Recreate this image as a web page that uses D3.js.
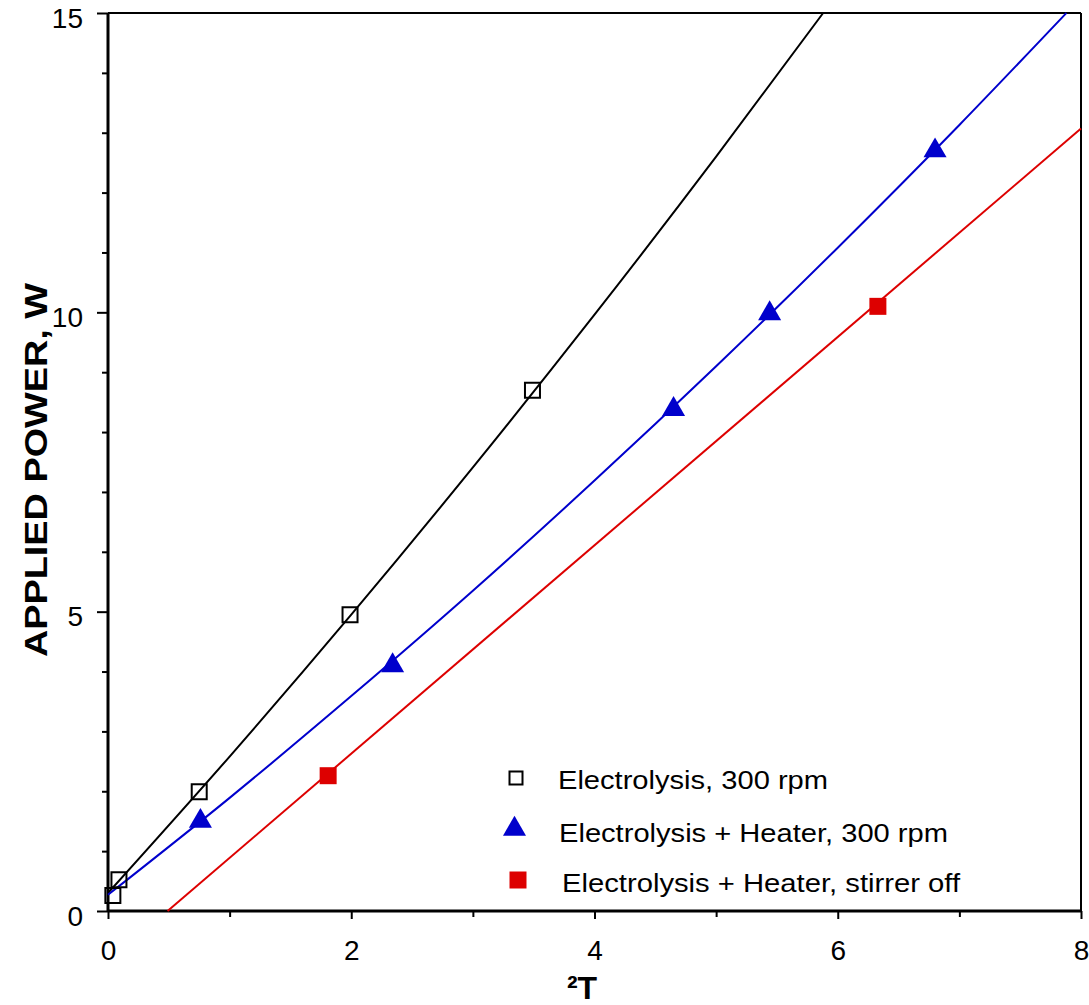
<!DOCTYPE html>
<html>
<head>
<meta charset="utf-8">
<script src="https://cdn.jsdelivr.net/npm/d3@7"></script>
<style>
  body { margin: 0; background: #fff; }
  svg { font-family: "Liberation Sans", Arial, sans-serif; }
</style>
</head>
<body>
<div id="chart"></div>
<script>
// measured points
const elecX = [0.04, 0.09, 0.75, 1.99, 3.49];
const elecY = [0.26, 0.52, 1.99, 4.95, 8.70];
const heatX = [0.76, 2.34, 4.65, 5.44, 6.80];
const heatY = [1.50, 4.10, 8.38, 9.98, 12.70];
const offX = [1.81, 6.33];
const offY = [2.26, 10.10];

// fitted lines
const elecFitX = [0, 1, 2, 3, 4, 5, 5.88];
const elecFitY = [0.30, 2.58, 4.95, 7.41, 9.96, 12.60, 15.0];
const heatFitX = [0, 1, 2, 3, 4, 5, 6, 7, 7.88];
const heatFitY = [0.27, 1.89, 3.59, 5.35, 7.19, 9.10, 11.08, 13.13, 15.0];
const offFitX = [0.49, 8];
const offFitY = [0, 13.07];

const xTicks = [0, 2, 4, 6, 8];
const xMinor = [1, 3, 5, 7];
const yTicks = [0, 5, 10, 15];
const yMinor = [1, 2, 3, 4, 6, 7, 8, 9, 11, 12, 13, 14];

const legendLabels = ["Electrolysis, 300 rpm", "Electrolysis + Heater, 300 rpm", "Electrolysis + Heater, stirrer off"];

const W = 1089, H = 1005;
const mLeft = 108, mRight = 1081, mTop = 13, mBottom = 911;
const BLUE = "#0000cc", RED = "#dd0000";

const svg = d3.select("#chart").append("svg").attr("width", W).attr("height", H);

const x = d3.scaleLinear().domain([0, 8]).range([mLeft, mRight]);
const y = d3.scaleLinear().domain([0, 15]).range([mBottom, mTop]);

// frame top/right
svg.append("line").attr("x1", mLeft).attr("x2", mRight).attr("y1", mTop).attr("y2", mTop)
  .attr("stroke", "#000").attr("stroke-width", 2);
svg.append("line").attr("x1", mRight).attr("x2", mRight).attr("y1", mTop).attr("y2", mBottom)
  .attr("stroke", "#000").attr("stroke-width", 2);

// axes
const xAxis = svg.append("g").attr("transform", `translate(0,${mBottom})`)
  .call(d3.axisBottom(x).tickValues(xTicks).tickFormat(d3.format("d")).tickSize(8).tickPadding(21));
const yAxis = svg.append("g").attr("transform", `translate(${mLeft},0)`)
  .call(d3.axisLeft(y).tickValues(yTicks).tickFormat(d3.format("d")).tickSize(11).tickPadding(14));
[xAxis, yAxis].forEach(g => {
  g.select(".domain").attr("stroke-width", 3);
  g.selectAll(".tick line").attr("stroke-width", 2);
  g.selectAll("text").attr("font-size", 28).attr("font-family", "Liberation Sans, Arial, sans-serif").attr("fill", "#000");
});
xAxis.select(".domain").attr("d", `M${mLeft},0H${mRight}`);
yAxis.select(".domain").attr("d", `M0,${mBottom}V${mTop}`);
yAxis.selectAll("text").attr("dy", "0.5em");

svg.append("g").attr("transform", `translate(0,${mBottom})`)
  .call(d3.axisBottom(x).tickValues(xMinor).tickFormat("").tickSize(6))
  .call(g => g.select(".domain").remove())
  .selectAll("line").attr("stroke-width", 2);
svg.append("g").attr("transform", `translate(${mLeft},0)`)
  .call(d3.axisLeft(y).tickValues(yMinor).tickFormat("").tickSize(6))
  .call(g => g.select(".domain").remove())
  .selectAll("line").attr("stroke-width", 2);

// axis titles
svg.append("text").attr("x", 582).attr("y", 999).attr("text-anchor", "middle")
  .attr("font-size", 32).attr("font-weight", "bold").text("²T");
svg.append("text").attr("transform", `translate(47,470) rotate(-90)`)
  .attr("text-anchor", "middle").attr("font-size", 32).attr("font-weight", "bold")
  .attr("textLength", 374).attr("lengthAdjust", "spacingAndGlyphs")
  .text("APPLIED POWER, W");

// lines
const line = d3.line().x(d => x(d[0])).y(d => y(d[1])).curve(d3.curveMonotoneX);
const plot = svg.append("g");
plot.append("path").datum(d3.zip(elecFitX, elecFitY)).attr("d", line)
  .attr("fill", "none").attr("stroke", "#000").attr("stroke-width", 2);
plot.append("path").datum(d3.zip(heatFitX, heatFitY)).attr("d", line)
  .attr("fill", "none").attr("stroke", BLUE).attr("stroke-width", 2);
plot.append("path").datum(d3.zip(offFitX, offFitY)).attr("d", line)
  .attr("fill", "none").attr("stroke", RED).attr("stroke-width", 2);

// markers
const sq = d3.symbol().type(d3.symbolSquare).size(15 * 15);
const tri = d3.symbol().type(d3.symbolTriangle).size(230);
const sqFill = d3.symbol().type(d3.symbolSquare).size(17 * 17);

plot.selectAll(".elec").data(d3.zip(elecX, elecY)).join("path")
  .attr("transform", d => `translate(${x(d[0])},${y(d[1])})`)
  .attr("d", sq).attr("fill", "none").attr("stroke", "#000").attr("stroke-width", 2);
plot.selectAll(".heat").data(d3.zip(heatX, heatY)).join("path")
  .attr("transform", d => `translate(${x(d[0])},${y(d[1])})`)
  .attr("d", tri).attr("fill", BLUE);
plot.selectAll(".off").data(d3.zip(offX, offY)).join("path")
  .attr("transform", d => `translate(${x(d[0])},${y(d[1])})`)
  .attr("d", sqFill).attr("fill", RED);

// legend
const lg = svg.append("g");
const legY = [778, 829, 880];
const legTextX = [558, 559, 562];
const legBase = [789, 842, 892];
const legWidth = [270, 389, 398];
lg.append("path").attr("transform", `translate(516,${legY[0]})`)
  .attr("d", d3.symbol().type(d3.symbolSquare).size(13 * 13)).attr("fill", "none").attr("stroke", "#000").attr("stroke-width", 2);
lg.append("path").attr("transform", `translate(514.5,${legY[1]})`)
  .attr("d", tri).attr("fill", BLUE);
lg.append("path").attr("transform", `translate(518,${legY[2]})`)
  .attr("d", d3.symbol().type(d3.symbolSquare).size(17 * 17)).attr("fill", RED);
legendLabels.forEach((t, i) => {
  lg.append("text").attr("x", legTextX[i]).attr("y", legBase[i])
    .attr("font-size", 26).attr("fill", "#000")
    .attr("textLength", legWidth[i]).attr("lengthAdjust", "spacingAndGlyphs")
    .text(t);
});
</script>
</body>
</html>
